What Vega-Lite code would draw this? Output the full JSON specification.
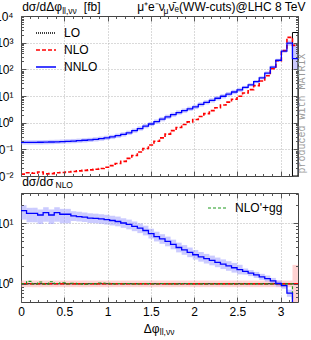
{
  "$schema": "https://vega.github.io/schema/vega-lite/v6.json",
  "width": 277,
  "height": 286,
  "autosize": {"type": "none"},
  "padding": {"left": 21, "top": 16, "right": 13, "bottom": 38},
  "background": "#ffffff",
  "config": {
    "view": {"stroke": null},
    "font": "Liberation Sans",
    "axis": {
      "labelFont": "Liberation Sans", "labelFontSize": 12, "labelColor": "#000000",
      "titleFont": "Liberation Sans", "titleFontSize": 12, "titleFontWeight": "normal", "titleColor": "#000000",
      "titlePadding": 0, "domainColor": "#444444", "domainWidth": 1, "tickColor": "#555555", "tickWidth": 1,
      "gridColor": "#b4b4b4", "gridDash": [1, 2], "gridWidth": 1, "gridOpacity": 1,
      "labelFlush": false, "labelOverlap": false, "labelBound": false
    },
    "legend": {"labelFont": "Liberation Sans", "labelColor": "#000000"}
  },
  "datasets": {
    "d": [{"a": 0, "b": 1}],
    "lo": [{"x0": 3.136, "x1": 3.2, "v": 2400}],
    "h": [
      {"x0": 0, "x1": 0.064, "nlo": 0.0118, "nnlo": 0.182, "nl": 0.151, "nh": 0.218, "r": 16.2, "rl": 11.5, "rh": 19.9, "pl": 0.88, "ph": 1.13, "g": 1.0},
      {"x0": 0.064, "x1": 0.128, "nlo": 0.0132, "nnlo": 0.182, "nl": 0.151, "nh": 0.218, "r": 14.6, "rl": 10.4, "rh": 18.0, "pl": 0.88, "ph": 1.13, "g": 1.1},
      {"x0": 0.128, "x1": 0.192, "nlo": 0.0126, "nnlo": 0.182, "nl": 0.151, "nh": 0.218, "r": 14.6, "rl": 10.4, "rh": 18.0, "pl": 0.88, "ph": 1.13, "g": 1.0},
      {"x0": 0.192, "x1": 0.256, "nlo": 0.0141, "nnlo": 0.184, "nl": 0.153, "nh": 0.221, "r": 13.7, "rl": 9.73, "rh": 16.9, "pl": 0.88, "ph": 1.13, "g": 1.07},
      {"x0": 0.256, "x1": 0.32, "nlo": 0.012, "nnlo": 0.186, "nl": 0.154, "nh": 0.223, "r": 15.0, "rl": 10.6, "rh": 18.4, "pl": 0.88, "ph": 1.13, "g": 0.99},
      {"x0": 0.32, "x1": 0.384, "nlo": 0.0123, "nnlo": 0.188, "nl": 0.156, "nh": 0.226, "r": 13.7, "rl": 9.73, "rh": 16.9, "pl": 0.88, "ph": 1.13, "g": 1.08},
      {"x0": 0.384, "x1": 0.448, "nlo": 0.0132, "nnlo": 0.191, "nl": 0.159, "nh": 0.229, "r": 15.0, "rl": 10.6, "rh": 18.4, "pl": 0.88, "ph": 1.13, "g": 1.01},
      {"x0": 0.448, "x1": 0.512, "nlo": 0.0135, "nnlo": 0.195, "nl": 0.162, "nh": 0.234, "r": 14.1, "rl": 9.98, "rh": 17.3, "pl": 0.88, "ph": 1.13, "g": 1.04},
      {"x0": 0.512, "x1": 0.576, "nlo": 0.0141, "nnlo": 0.2, "nl": 0.166, "nh": 0.24, "r": 14.1, "rl": 9.98, "rh": 17.3, "pl": 0.88, "ph": 1.13, "g": 1.0},
      {"x0": 0.576, "x1": 0.64, "nlo": 0.0148, "nnlo": 0.204, "nl": 0.169, "nh": 0.245, "r": 13.2, "rl": 10.9, "rh": 15.8, "pl": 0.88, "ph": 1.13, "g": 1.02},
      {"x0": 0.64, "x1": 0.704, "nlo": 0.0155, "nnlo": 0.211, "nl": 0.175, "nh": 0.253, "r": 12.9, "rl": 10.7, "rh": 15.5, "pl": 0.88, "ph": 1.13, "g": 1.0},
      {"x0": 0.704, "x1": 0.768, "nlo": 0.0162, "nnlo": 0.219, "nl": 0.182, "nh": 0.263, "r": 12.6, "rl": 10.5, "rh": 15.1, "pl": 0.88, "ph": 1.13, "g": 0.99},
      {"x0": 0.768, "x1": 0.832, "nlo": 0.017, "nnlo": 0.226, "nl": 0.188, "nh": 0.271, "r": 12.2, "rl": 10.1, "rh": 14.6, "pl": 0.88, "ph": 1.13, "g": 1.01},
      {"x0": 0.832, "x1": 0.896, "nlo": 0.0178, "nnlo": 0.237, "nl": 0.197, "nh": 0.284, "r": 12.0, "rl": 9.98, "rh": 14.4, "pl": 0.88, "ph": 1.13, "g": 1.0},
      {"x0": 0.896, "x1": 0.96, "nlo": 0.0191, "nnlo": 0.251, "nl": 0.208, "nh": 0.301, "r": 11.8, "rl": 9.75, "rh": 14.1, "pl": 0.88, "ph": 1.13, "g": 1.03},
      {"x0": 0.96, "x1": 1.024, "nlo": 0.0214, "nnlo": 0.269, "nl": 0.223, "nh": 0.323, "r": 11.5, "rl": 9.53, "rh": 13.8, "pl": 0.88, "ph": 1.13, "g": 1.02},
      {"x0": 1.024, "x1": 1.088, "nlo": 0.0246, "nnlo": 0.292, "nl": 0.242, "nh": 0.35, "r": 11.1, "rl": 9.2, "rh": 13.3, "pl": 0.88, "ph": 1.13, "g": 1.0},
      {"x0": 1.088, "x1": 1.152, "nlo": 0.0295, "nnlo": 0.324, "nl": 0.269, "nh": 0.389, "r": 10.7, "rl": 8.9, "rh": 12.9, "pl": 0.88, "ph": 1.13, "g": 1.01},
      {"x0": 1.152, "x1": 1.216, "nlo": 0.0355, "nnlo": 0.363, "nl": 0.301, "nh": 0.436, "r": 10.1, "rl": 8.4, "rh": 12.1, "pl": 0.88, "ph": 1.13, "g": 1.0},
      {"x0": 1.216, "x1": 1.28, "nlo": 0.0457, "nnlo": 0.417, "nl": 0.346, "nh": 0.5, "r": 9.55, "rl": 7.93, "rh": 11.5, "pl": 0.88, "ph": 1.13, "g": 1.01},
      {"x0": 1.28, "x1": 1.344, "nlo": 0.0589, "nnlo": 0.501, "nl": 0.416, "nh": 0.601, "r": 8.91, "rl": 7.4, "rh": 10.7, "pl": 0.88, "ph": 1.13, "g": 1.0},
      {"x0": 1.344, "x1": 1.408, "nlo": 0.0794, "nnlo": 0.603, "nl": 0.5, "nh": 0.724, "r": 8.28, "rl": 6.87, "rh": 9.94, "pl": 0.88, "ph": 1.13, "g": 1.0},
      {"x0": 1.408, "x1": 1.472, "nlo": 0.107, "nnlo": 0.741, "nl": 0.615, "nh": 0.889, "r": 7.59, "rl": 6.3, "rh": 9.11, "pl": 0.88, "ph": 1.13, "g": 1.01},
      {"x0": 1.472, "x1": 1.536, "nlo": 0.145, "nnlo": 0.891, "nl": 0.74, "nh": 1.07, "r": 6.76, "rl": 5.61, "rh": 8.11, "pl": 0.88, "ph": 1.13, "g": 1.0},
      {"x0": 1.536, "x1": 1.6, "nlo": 0.2, "nnlo": 1.1, "nl": 0.91, "nh": 1.32, "r": 6.03, "rl": 5.0, "rh": 7.24, "pl": 0.88, "ph": 1.13, "g": 1.0},
      {"x0": 1.6, "x1": 1.664, "nlo": 0.269, "nnlo": 1.35, "nl": 1.12, "nh": 1.62, "r": 5.5, "rl": 4.57, "rh": 6.6, "pl": 0.88, "ph": 1.13, "g": 1.01},
      {"x0": 1.664, "x1": 1.728, "nlo": 0.372, "nnlo": 1.66, "nl": 1.38, "nh": 1.99, "r": 5.01, "rl": 4.16, "rh": 6.01, "pl": 0.88, "ph": 1.13, "g": 1.0},
      {"x0": 1.728, "x1": 1.792, "nlo": 0.501, "nnlo": 2.0, "nl": 1.66, "nh": 2.39, "r": 4.47, "rl": 3.71, "rh": 5.36, "pl": 0.88, "ph": 1.13, "g": 1.0},
      {"x0": 1.792, "x1": 1.856, "nlo": 0.661, "nnlo": 2.4, "nl": 1.99, "nh": 2.88, "r": 3.98, "rl": 3.3, "rh": 4.78, "pl": 0.88, "ph": 1.13, "g": 1.0},
      {"x0": 1.856, "x1": 1.92, "nlo": 0.851, "nnlo": 2.82, "nl": 2.34, "nh": 3.38, "r": 3.63, "rl": 3.01, "rh": 4.36, "pl": 0.88, "ph": 1.13, "g": 1.01},
      {"x0": 1.92, "x1": 1.984, "nlo": 1.07, "nnlo": 3.31, "nl": 2.75, "nh": 3.97, "r": 3.31, "rl": 2.75, "rh": 3.97, "pl": 0.88, "ph": 1.13, "g": 1.0},
      {"x0": 1.984, "x1": 2.048, "nlo": 1.32, "nnlo": 3.89, "nl": 3.23, "nh": 4.67, "r": 3.02, "rl": 2.51, "rh": 3.62, "pl": 0.88, "ph": 1.13, "g": 1.0},
      {"x0": 2.048, "x1": 2.112, "nlo": 1.7, "nnlo": 4.84, "nl": 4.02, "nh": 5.81, "r": 2.79, "rl": 2.32, "rh": 3.35, "pl": 0.88, "ph": 1.13, "g": 1.0},
      {"x0": 2.112, "x1": 2.176, "nlo": 2.19, "nnlo": 5.75, "nl": 4.78, "nh": 6.91, "r": 2.6, "rl": 2.16, "rh": 3.12, "pl": 0.88, "ph": 1.13, "g": 1.0},
      {"x0": 2.176, "x1": 2.24, "nlo": 2.82, "nnlo": 6.84, "nl": 5.68, "nh": 8.21, "r": 2.43, "rl": 2.02, "rh": 2.92, "pl": 0.88, "ph": 1.13, "g": 1.0},
      {"x0": 2.24, "x1": 2.304, "nlo": 3.63, "nnlo": 8.22, "nl": 6.82, "nh": 9.87, "r": 2.26, "rl": 1.88, "rh": 2.71, "pl": 0.88, "ph": 1.13, "g": 1.0},
      {"x0": 2.304, "x1": 2.368, "nlo": 4.57, "nnlo": 9.77, "nl": 8.11, "nh": 11.7, "r": 2.11, "rl": 1.75, "rh": 2.53, "pl": 0.88, "ph": 1.13, "g": 1.0},
      {"x0": 2.368, "x1": 2.432, "nlo": 5.89, "nnlo": 11.8, "nl": 9.75, "nh": 14.1, "r": 1.97, "rl": 1.64, "rh": 2.36, "pl": 0.88, "ph": 1.13, "g": 1.0},
      {"x0": 2.432, "x1": 2.496, "nlo": 7.59, "nnlo": 14.1, "nl": 11.7, "nh": 17.0, "r": 1.84, "rl": 1.53, "rh": 2.21, "pl": 0.88, "ph": 1.13, "g": 1.0},
      {"x0": 2.496, "x1": 2.56, "nlo": 9.77, "nnlo": 17.0, "nl": 14.1, "nh": 20.4, "r": 1.72, "rl": 1.43, "rh": 2.06, "pl": 0.88, "ph": 1.13, "g": 1.0},
      {"x0": 2.56, "x1": 2.624, "nlo": 12.9, "nnlo": 20.9, "nl": 18.2, "nh": 24.0, "r": 1.6, "rl": 1.42, "rh": 1.79, "pl": 0.88, "ph": 1.13, "g": 1.0},
      {"x0": 2.624, "x1": 2.688, "nlo": 17.4, "nnlo": 26.3, "nl": 22.9, "nh": 30.3, "r": 1.5, "rl": 1.34, "rh": 1.68, "pl": 0.88, "ph": 1.13, "g": 1.0},
      {"x0": 2.688, "x1": 2.752, "nlo": 24.5, "nnlo": 34.7, "nl": 30.2, "nh": 39.9, "r": 1.4, "rl": 1.25, "rh": 1.57, "pl": 0.88, "ph": 1.13, "g": 1.0},
      {"x0": 2.752, "x1": 2.816, "nlo": 36.3, "nnlo": 47.9, "nl": 41.6, "nh": 55.0, "r": 1.3, "rl": 1.16, "rh": 1.46, "pl": 0.88, "ph": 1.13, "g": 1.0},
      {"x0": 2.816, "x1": 2.88, "nlo": 57.5, "nnlo": 72.4, "nl": 63.0, "nh": 83.3, "r": 1.22, "rl": 1.09, "rh": 1.37, "pl": 0.88, "ph": 1.13, "g": 1.0},
      {"x0": 2.88, "x1": 2.944, "nlo": 105, "nnlo": 120, "nl": 105, "nh": 138, "r": 1.12, "rl": 1.0, "rh": 1.25, "pl": 0.88, "ph": 1.13, "g": 1.0},
      {"x0": 2.944, "x1": 3.008, "nlo": 209, "nnlo": 219, "nl": 190, "nh": 252, "r": 1.01, "rl": 0.9, "rh": 1.13, "pl": 0.88, "ph": 1.13, "g": 1.0},
      {"x0": 3.008, "x1": 3.072, "nlo": 501, "nnlo": 479, "nl": 416, "nh": 550, "r": 0.93, "rl": 0.83, "rh": 1.04, "pl": 0.88, "ph": 1.13, "g": 1.0},
      {"x0": 3.072, "x1": 3.136, "nlo": 1585, "nnlo": 955, "nl": 764, "nh": 1203, "r": 0.7, "rl": 0.61, "rh": 0.8, "pl": 0.88, "ph": 1.13, "g": 1.0},
      {"x0": 3.136, "x1": 3.2, "nlo": 794, "nnlo": 251, "nl": 95, "nh": 900, "r": 0.31, "rl": 0.2, "rh": 0.45, "pl": 0.4, "ph": 2.05, "g": 0.3},
      {"x0": 3.2, "nlo": 794, "nnlo": 251, "r": 0.31, "g": 0.3}
    ]
  },
  "layer": [
    {
      "layer": [
        {
          "data": {"name": "h"},
          "transform": [{"filter": "isValid(datum.x1)"}],
          "mark": {"type": "rect", "color": "#8c8cff", "opacity": 0.45},
          "encoding": {
            "x": {"field": "x0", "type": "quantitative", "scale": {"domain": [0, 3.2], "nice": false, "zero": false}, "axis": null},
            "x2": {"field": "x1"},
            "y": {"field": "nl", "type": "quantitative", "scale": {"type": "log", "domain": [0.01, 10000], "range": [160, 0], "nice": false}, "axis": null},
            "y2": {"field": "nh"}
          }
        },
        {
          "data": {"name": "lo"},
          "mark": {"type": "rect", "filled": false, "strokeWidth": 1},
          "encoding": {
            "x": {"field": "x0", "type": "quantitative", "scale": {"domain": [0, 3.2], "nice": false, "zero": false}, "axis": null},
            "x2": {"field": "x1"},
            "y": {"field": "v", "type": "quantitative", "scale": {"type": "log", "domain": [0.01, 10000], "range": [160, 0], "nice": false}, "axis": null},
            "y2": {"datum": 0.01},
            "color": {"datum": "LO", "type": "nominal", "scale": {"domain": ["LO", "NLO", "NNLO"], "range": ["#000000", "#ff0000", "#0000ff"]},
              "legend": {"orient": "none", "legendX": 14, "legendY": 6, "title": null, "symbolType": "stroke", "symbolSize": 400, "symbolStrokeWidth": 1.5, "labelFontSize": 12, "labelOffset": 7, "rowPadding": -5.5, "padding": 0}},
            "strokeDash": {"datum": "LO", "type": "nominal", "scale": {"domain": ["LO", "NLO", "NNLO"], "range": [[1, 1], [4, 2], [1, 0]]},
              "legend": {"orient": "none", "legendX": 14, "legendY": 6, "title": null, "symbolType": "stroke", "symbolSize": 400, "symbolStrokeWidth": 1.5, "labelFontSize": 12, "labelOffset": 7, "rowPadding": -5.5, "padding": 0}}
          }
        },
        {
          "data": {"name": "h"},
          "mark": {"type": "line", "interpolate": "step-after", "strokeWidth": 1.6},
          "encoding": {
            "x": {"field": "x0", "type": "quantitative", "scale": {"domain": [0, 3.2], "nice": false, "zero": false}, "axis": null},
            "y": {"field": "nlo", "type": "quantitative", "scale": {"type": "log", "domain": [0.01, 10000], "range": [160, 0], "nice": false}, "axis": null},
            "color": {"datum": "NLO", "type": "nominal", "scale": {"domain": ["LO", "NLO", "NNLO"], "range": ["#000000", "#ff0000", "#0000ff"]}},
            "strokeDash": {"datum": "NLO", "type": "nominal", "scale": {"domain": ["LO", "NLO", "NNLO"], "range": [[1, 1], [4, 2], [1, 0]]}}
          }
        },
        {
          "data": {"name": "h"},
          "mark": {"type": "line", "interpolate": "step-after", "strokeWidth": 1.3},
          "encoding": {
            "x": {"field": "x0", "type": "quantitative", "scale": {"domain": [0, 3.2], "nice": false, "zero": false}, "axis": null},
            "y": {"field": "nnlo", "type": "quantitative", "scale": {"type": "log", "domain": [0.01, 10000], "range": [160, 0], "nice": false}, "axis": null},
            "color": {"datum": "NNLO", "type": "nominal", "scale": {"domain": ["LO", "NLO", "NNLO"], "range": ["#000000", "#ff0000", "#0000ff"]}},
            "strokeDash": {"datum": "NNLO", "type": "nominal", "scale": {"domain": ["LO", "NLO", "NNLO"], "range": [[1, 1], [4, 2], [1, 0]]}}
          }
        },
        {
          "data": {"name": "d"},
          "mark": {"type": "point", "opacity": 0},
          "encoding": {
            "x": {"field": "a", "type": "quantitative", "scale": {"domain": [0, 3.2], "nice": false, "zero": false},
              "axis": {"orient": "bottom", "offset": -126, "labels": false, "ticks": false, "tickSize": 0, "grid": false, "domain": true, "zindex": 1,
                "title": "μ⁺e⁻ν", "titleX": 115.7, "titleY": -165.5, "titleAlign": "left", "titleBaseline": "alphabetic", "titleAngle": 0}},
            "y": {"field": "b", "type": "quantitative", "scale": {"type": "log", "domain": [0.01, 10000], "range": [160, 0], "nice": false},
              "axis": {"orient": "left", "values": [0.01, 0.1, 1, 10, 100, 1000, 10000],
                "labelExpr": "datum.value > 5000 ? '10⁴' : datum.value > 500 ? '10³' : datum.value > 50 ? '10²' : datum.value > 5 ? '10¹' : datum.value > 0.5 ? '10⁰' : datum.value > 0.05 ? '10⁻¹' : '10⁻²'",
                "ticks": false, "tickSize": 0, "labelPadding": 8, "grid": true, "domain": true,
                "title": "dσ/dΔφ", "titleX": 0.7, "titleY": -5.5, "titleAlign": "left", "titleBaseline": "alphabetic", "titleAngle": 0}}
          }
        },
        {
          "data": {"name": "d"},
          "mark": {"type": "point", "opacity": 0},
          "encoding": {
            "x": {"field": "a", "type": "quantitative", "scale": {"domain": [0, 3.2], "nice": false, "zero": false},
              "axis": {"orient": "bottom", "offset": -126, "values": [0, 0.5, 1, 1.5, 2, 2.5, 3], "labels": false, "ticks": true, "tickSize": -5, "grid": false, "domain": false, "zindex": 1,
                "title": "μ", "titleFontSize": 8.5, "titleX": 142, "titleY": -163, "titleAlign": "left", "titleBaseline": "alphabetic", "titleAngle": 0}},
            "y": {"field": "b", "type": "quantitative", "scale": {"type": "log", "domain": [0.01, 10000], "range": [160, 0], "nice": false},
              "axis": {"orient": "left", "values": [0.01, 0.1, 1, 10, 100, 1000, 10000], "labels": false, "ticks": true, "tickSize": -5, "grid": false, "domain": false, "zindex": 1,
                "title": "ll,νν", "titleFontSize": 8.5, "titleX": 40.7, "titleY": -3, "titleAlign": "left", "titleBaseline": "alphabetic", "titleAngle": 0}}
          }
        },
        {
          "data": {"name": "d"},
          "mark": {"type": "point", "opacity": 0},
          "encoding": {
            "x": {"field": "a", "type": "quantitative", "scale": {"domain": [0, 3.2], "nice": false, "zero": false},
              "axis": {"orient": "bottom", "offset": -126, "values": [0.1, 0.2, 0.3, 0.4, 0.6, 0.7, 0.8, 0.9, 1.1, 1.2, 1.3, 1.4, 1.6, 1.7, 1.8, 1.9, 2.1, 2.2, 2.3, 2.4, 2.6, 2.7, 2.8, 2.9, 3.1], "labels": false, "ticks": true, "tickSize": -2.5, "grid": false, "domain": false, "zindex": 1,
                "title": "ν̄ₑ(", "titleX": 147, "titleY": -165.5, "titleAlign": "left", "titleBaseline": "alphabetic", "titleAngle": 0}},
            "y": {"field": "b", "type": "quantitative", "scale": {"type": "log", "domain": [0.01, 10000], "range": [160, 0], "nice": false},
              "axis": {"orient": "left", "values": [0.02, 0.03, 0.04, 0.05, 0.06, 0.07, 0.08, 0.09, 0.2, 0.3, 0.4, 0.5, 0.6, 0.7, 0.8, 0.9, 2, 3, 4, 5, 6, 7, 8, 9, 20, 30, 40, 50, 60, 70, 80, 90, 200, 300, 400, 500, 600, 700, 800, 900, 2000, 3000, 4000, 5000, 6000, 7000, 8000, 9000], "labels": false, "ticks": true, "tickSize": -2.5, "grid": false, "domain": false, "zindex": 1,
                "title": "[fb]", "titleX": 62.3, "titleY": -5.5, "titleAlign": "left", "titleBaseline": "alphabetic", "titleAngle": 0}}
          }
        },
        {
          "data": {"name": "d"},
          "mark": {"type": "point", "opacity": 0},
          "encoding": {
            "x": {"field": "a", "type": "quantitative", "scale": {"domain": [0, 3.2], "nice": false, "zero": false},
              "axis": {"orient": "top", "offset": 0, "values": [0, 0.5, 1, 1.5, 2, 2.5, 3], "labels": false, "ticks": true, "tickSize": -5, "grid": true, "domain": true,
                "title": "WW-cuts)@LHC 8 TeV", "titleX": 284, "titleY": -5.5, "titleAlign": "right", "titleBaseline": "alphabetic", "titleAngle": 0}},
            "y": {"field": "b", "type": "quantitative", "scale": {"type": "log", "domain": [0.01, 10000], "range": [160, 0], "nice": false},
              "axis": {"orient": "right", "values": [0.01, 0.1, 1, 10, 100, 1000, 10000], "labels": false, "ticks": true, "tickSize": -5, "grid": false, "domain": true, "zindex": 1,
                "title": "produced with MATRIX", "titleFont": "Liberation Mono", "titleFontSize": 10, "titleColor": "#9a9a9a", "titleX": 3, "titleY": 157, "titleAlign": "left", "titleBaseline": "middle", "titleAngle": 270}}
          }
        },
        {
          "data": {"name": "d"},
          "mark": {"type": "point", "opacity": 0},
          "encoding": {
            "x": {"field": "a", "type": "quantitative", "scale": {"domain": [0, 3.2], "nice": false, "zero": false},
              "axis": {"orient": "top", "offset": 0, "values": [0.1, 0.2, 0.3, 0.4, 0.6, 0.7, 0.8, 0.9, 1.1, 1.2, 1.3, 1.4, 1.6, 1.7, 1.8, 1.9, 2.1, 2.2, 2.3, 2.4, 2.6, 2.7, 2.8, 2.9, 3.1], "labels": false, "ticks": true, "tickSize": -2.5, "grid": false, "domain": false, "zindex": 1, "title": null}},
            "y": {"field": "b", "type": "quantitative", "scale": {"type": "log", "domain": [0.01, 10000], "range": [160, 0], "nice": false},
              "axis": {"orient": "right", "values": [0.02, 0.03, 0.04, 0.05, 0.06, 0.07, 0.08, 0.09, 0.2, 0.3, 0.4, 0.5, 0.6, 0.7, 0.8, 0.9, 2, 3, 4, 5, 6, 7, 8, 9, 20, 30, 40, 50, 60, 70, 80, 90, 200, 300, 400, 500, 600, 700, 800, 900, 2000, 3000, 4000, 5000, 6000, 7000, 8000, 9000], "labels": false, "ticks": true, "tickSize": -2.5, "grid": false, "domain": false, "zindex": 1, "title": null}}
          }
        }
      ],
      "resolve": {"axis": {"x": "independent", "y": "independent"}}
    },
    {
      "layer": [
        {
          "data": {"name": "h"},
          "transform": [{"filter": "isValid(datum.x1)"}],
          "mark": {"type": "rect", "color": "#ff9090", "opacity": 0.4, "clip": true},
          "encoding": {
            "x": {"field": "x0", "type": "quantitative", "scale": {"domain": [0, 3.2], "nice": false, "zero": false}, "axis": null},
            "x2": {"field": "x1"},
            "y": {"field": "pl", "type": "quantitative", "scale": {"type": "log", "domain": [0.5, 31.62], "range": [286, 177], "nice": false}, "axis": null},
            "y2": {"field": "ph"}
          }
        },
        {
          "data": {"name": "h"},
          "transform": [{"filter": "isValid(datum.x1)"}],
          "mark": {"type": "rect", "color": "#8c8cff", "opacity": 0.45, "clip": true},
          "encoding": {
            "x": {"field": "x0", "type": "quantitative", "scale": {"domain": [0, 3.2], "nice": false, "zero": false}, "axis": null},
            "x2": {"field": "x1"},
            "y": {"field": "rl", "type": "quantitative", "scale": {"type": "log", "domain": [0.5, 31.62], "range": [286, 177], "nice": false}, "axis": null},
            "y2": {"field": "rh"}
          }
        },
        {
          "data": {"name": "d"},
          "mark": {"type": "rule", "color": "#000000", "strokeWidth": 1},
          "encoding": {
            "y": {"datum": 1, "type": "quantitative", "scale": {"type": "log", "domain": [0.5, 31.62], "range": [286, 177], "nice": false}, "axis": null}
          }
        },
        {
          "data": {"name": "d"},
          "mark": {"type": "rule", "color": "#ff0000", "strokeWidth": 1.6, "strokeDash": [4, 2]},
          "encoding": {
            "y": {"datum": 1, "type": "quantitative", "scale": {"type": "log", "domain": [0.5, 31.62], "range": [286, 177], "nice": false}, "axis": null}
          }
        },
        {
          "data": {"name": "h"},
          "mark": {"type": "line", "interpolate": "step-after", "strokeWidth": 1.2, "clip": true},
          "encoding": {
            "x": {"field": "x0", "type": "quantitative", "scale": {"domain": [0, 3.2], "nice": false, "zero": false}, "axis": null},
            "y": {"field": "g", "type": "quantitative", "scale": {"type": "log", "domain": [0.5, 31.62], "range": [286, 177], "nice": false}, "axis": null},
            "color": {"datum": "NLO'+gg", "type": "nominal", "scale": {"domain": ["NLO'+gg"], "range": ["#1f9a1f"]},
              "legend": {"orient": "none", "legendX": 186, "legendY": 181, "title": null, "symbolType": "stroke", "symbolSize": 400, "symbolStrokeWidth": 1.2, "labelFontSize": 12, "labelOffset": 6, "padding": 0}},
            "strokeDash": {"datum": "NLO'+gg", "type": "nominal", "scale": {"domain": ["NLO'+gg"], "range": [[3, 2]]},
              "legend": {"orient": "none", "legendX": 186, "legendY": 181, "title": null, "symbolType": "stroke", "symbolSize": 400, "symbolStrokeWidth": 1.2, "labelFontSize": 12, "labelOffset": 6, "padding": 0}}
          }
        },
        {
          "data": {"name": "h"},
          "mark": {"type": "line", "interpolate": "step-after", "strokeWidth": 1.3, "color": "#0000ff", "clip": true},
          "encoding": {
            "x": {"field": "x0", "type": "quantitative", "scale": {"domain": [0, 3.2], "nice": false, "zero": false}, "axis": null},
            "y": {"field": "r", "type": "quantitative", "scale": {"type": "log", "domain": [0.5, 31.62], "range": [286, 177], "nice": false}, "axis": null}
          }
        },
        {
          "data": {"name": "d"},
          "mark": {"type": "point", "opacity": 0},
          "encoding": {
            "x": {"field": "a", "type": "quantitative", "scale": {"domain": [0, 3.2], "nice": false, "zero": false},
              "axis": {"orient": "bottom", "offset": 0, "values": [0, 0.5, 1, 1.5, 2, 2.5, 3], "labelExpr": "datum.value + ''", "labelFlush": false, "labelPadding": 4, "ticks": false, "tickSize": 0, "grid": false, "domain": true, "zindex": 1,
                "title": "Δφ", "titleX": 122.3, "titleY": 30, "titleAlign": "left", "titleBaseline": "alphabetic", "titleAngle": 0}},
            "y": {"field": "b", "type": "quantitative", "scale": {"type": "log", "domain": [0.5, 31.62], "range": [286, 177], "nice": false},
              "axis": {"orient": "left", "values": [1, 10], "labelExpr": "datum.value > 5 ? '10¹' : '10⁰'", "ticks": false, "tickSize": 0, "labelPadding": 8, "grid": true, "domain": true,
                "title": "dσ/dσ", "titleX": 0.7, "titleY": 169, "titleAlign": "left", "titleBaseline": "alphabetic", "titleAngle": 0}}
          }
        },
        {
          "data": {"name": "d"},
          "mark": {"type": "point", "opacity": 0},
          "encoding": {
            "x": {"field": "a", "type": "quantitative", "scale": {"domain": [0, 3.2], "nice": false, "zero": false},
              "axis": {"orient": "bottom", "offset": 0, "values": [0, 0.5, 1, 1.5, 2, 2.5, 3], "labels": false, "ticks": true, "tickSize": -5, "grid": false, "domain": false, "zindex": 1,
                "title": "ll,νν", "titleFontSize": 8.5, "titleX": 138.3, "titleY": 32.5, "titleAlign": "left", "titleBaseline": "alphabetic", "titleAngle": 0}},
            "y": {"field": "b", "type": "quantitative", "scale": {"type": "log", "domain": [0.5, 31.62], "range": [286, 177], "nice": false},
              "axis": {"orient": "left", "values": [1, 10], "labels": false, "ticks": true, "tickSize": -5, "grid": false, "domain": false, "zindex": 1,
                "title": "NLO", "titleFontSize": 8.5, "titleX": 34, "titleY": 171.5, "titleAlign": "left", "titleBaseline": "alphabetic", "titleAngle": 0}}
          }
        },
        {
          "data": {"name": "d"},
          "mark": {"type": "point", "opacity": 0},
          "encoding": {
            "x": {"field": "a", "type": "quantitative", "scale": {"domain": [0, 3.2], "nice": false, "zero": false},
              "axis": {"orient": "bottom", "offset": 0, "values": [0.1, 0.2, 0.3, 0.4, 0.6, 0.7, 0.8, 0.9, 1.1, 1.2, 1.3, 1.4, 1.6, 1.7, 1.8, 1.9, 2.1, 2.2, 2.3, 2.4, 2.6, 2.7, 2.8, 2.9, 3.1], "labels": false, "ticks": true, "tickSize": -2.5, "grid": false, "domain": false, "zindex": 1, "title": null}},
            "y": {"field": "b", "type": "quantitative", "scale": {"type": "log", "domain": [0.5, 31.62], "range": [286, 177], "nice": false},
              "axis": {"orient": "left", "values": [0.6, 0.7, 0.8, 0.9, 2, 3, 4, 5, 6, 7, 8, 9, 20, 30], "labels": false, "ticks": true, "tickSize": -2.5, "grid": false, "domain": false, "zindex": 1, "title": null}}
          }
        },
        {
          "data": {"name": "d"},
          "mark": {"type": "point", "opacity": 0},
          "encoding": {
            "x": {"field": "a", "type": "quantitative", "scale": {"domain": [0, 3.2], "nice": false, "zero": false},
              "axis": {"orient": "top", "offset": -177, "values": [0, 0.5, 1, 1.5, 2, 2.5, 3], "labels": false, "ticks": true, "tickSize": -5, "grid": true, "domain": true, "title": null}},
            "y": {"field": "b", "type": "quantitative", "scale": {"type": "log", "domain": [0.5, 31.62], "range": [286, 177], "nice": false},
              "axis": {"orient": "right", "values": [1, 10], "labels": false, "ticks": true, "tickSize": -5, "grid": false, "domain": true, "zindex": 1, "title": null}}
          }
        },
        {
          "data": {"name": "d"},
          "mark": {"type": "point", "opacity": 0},
          "encoding": {
            "x": {"field": "a", "type": "quantitative", "scale": {"domain": [0, 3.2], "nice": false, "zero": false},
              "axis": {"orient": "top", "offset": -177, "values": [0.1, 0.2, 0.3, 0.4, 0.6, 0.7, 0.8, 0.9, 1.1, 1.2, 1.3, 1.4, 1.6, 1.7, 1.8, 1.9, 2.1, 2.2, 2.3, 2.4, 2.6, 2.7, 2.8, 2.9, 3.1], "labels": false, "ticks": true, "tickSize": -2.5, "grid": false, "domain": false, "zindex": 1, "title": null}},
            "y": {"field": "b", "type": "quantitative", "scale": {"type": "log", "domain": [0.5, 31.62], "range": [286, 177], "nice": false},
              "axis": {"orient": "right", "values": [0.6, 0.7, 0.8, 0.9, 2, 3, 4, 5, 6, 7, 8, 9, 20, 30], "labels": false, "ticks": true, "tickSize": -2.5, "grid": false, "domain": false, "zindex": 1, "title": null}}
          }
        }
      ],
      "resolve": {"axis": {"x": "independent", "y": "independent"}}
    }
  ],
  "resolve": {
    "scale": {"y": "independent", "color": "independent", "strokeDash": "independent"},
    "axis": {"x": "independent", "y": "independent"},
    "legend": {"color": "independent", "strokeDash": "independent"}
  }
}
